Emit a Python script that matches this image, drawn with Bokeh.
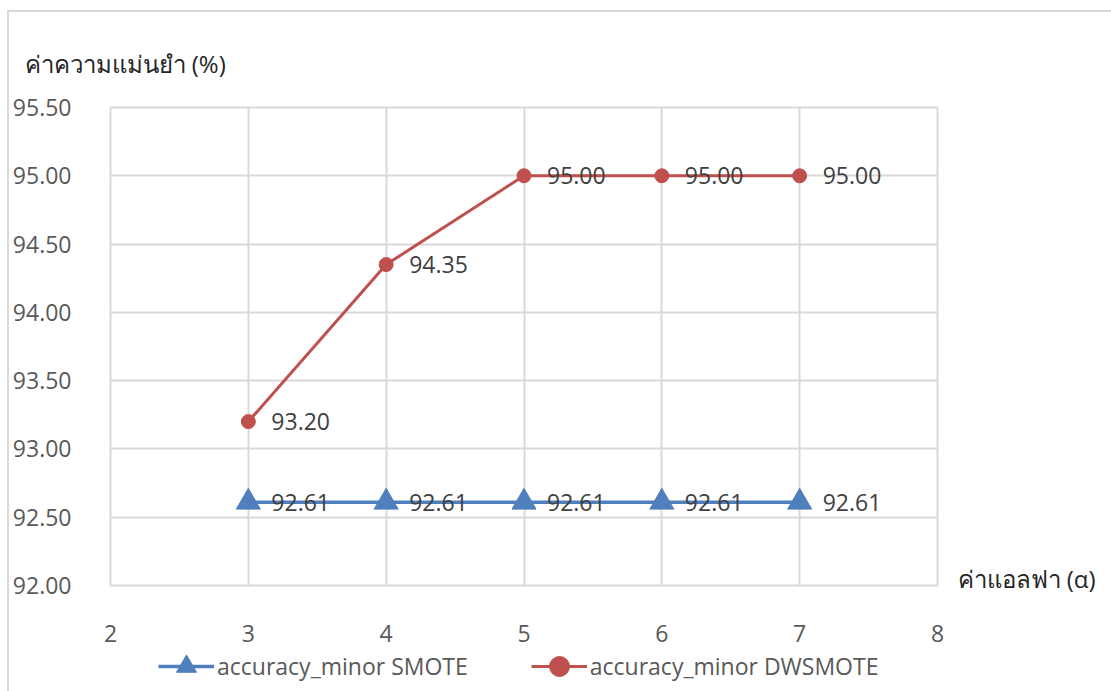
from bokeh.plotting import figure
from bokeh.layouts import column
from bokeh.models import (Range1d, FixedTicker, Legend, LegendItem, ColumnDataSource,
                          CustomJSTickFormatter, LinearAxis)
from bokeh.core.properties import value
from bokeh.embed import file_html
from bokeh.resources import INLINE

alpha = [3, 4, 5, 6, 7]
smote = [92.61, 92.61, 92.61, 92.61, 92.61]
dwsmote = [93.20, 94.35, 95.00, 95.00, 95.00]
x_ticks = [2, 3, 4, 5, 6, 7, 8]
y_ticks = [92.0, 92.5, 93.0, 93.5, 94.0, 94.5, 95.0, 95.5]
y_title = "ค่าความแม่นยำ (%)"
x_title = "ค่าแอลฟา (α)"
name_smote = "accuracy_minor SMOTE"
name_dw = "accuracy_minor DWSMOTE"

FONT = "Open Sans"
BLUE = "#4f7fbc"
RED = "#c0504d"
GRID = "#d9d9d9"
TICK = "#595959"
TXT = "#404040"
DARK = "#262626"

# page layout: a 2px border at x=7 / y=10, chart content from (9, 12)
OX, OY = 9, 12
W = 1111 - OX
FL, FT, FR, FB = 107, 107, 937, 585   # frame edges on the page
H_MAIN = 640
LEG_OVERLAP = 40
H_LEG = 691 - OY - H_MAIN + LEG_OVERLAP

p = figure(width=W, height=H_MAIN, output_backend="svg", toolbar_location=None,
           x_range=Range1d(2, 8), y_range=Range1d(92, 95.5),
           min_border_left=FL - OX, min_border_right=1111 - FR,
           min_border_top=FT - OY, min_border_bottom=H_MAIN - (FB - OY))
p.outline_line_color = GRID
p.outline_line_width = 2
p.background_fill_color = "white"
p.border_fill_color = "white"

# value-axis title sits above the frame, left of it
p.title.text = y_title
p.title.align = "left"
p.title.offset = 27 - FL - 6
p.title.standoff = 56
p.title.text_font = FONT
p.title.text_font_size = "24px"
p.title.text_font_style = "normal"
p.title.text_color = DARK

for ax in (p.xaxis[0], p.yaxis[0]):
    ax.axis_line_color = None
    ax.major_tick_line_color = None
    ax.minor_tick_line_color = None
    ax.major_label_text_font = FONT
    ax.major_label_text_color = TICK
    ax.major_label_text_font_size = "23px"
p.xaxis.ticker = FixedTicker(ticks=x_ticks)
p.yaxis.ticker = FixedTicker(ticks=y_ticks)
p.yaxis.formatter = CustomJSTickFormatter(code="return tick.toFixed(2);")
p.yaxis.major_label_standoff = 33
p.xaxis.major_label_standoff = 33
p.xgrid.grid_line_color = GRID
p.ygrid.grid_line_color = GRID
p.xgrid.grid_line_width = 2
p.ygrid.grid_line_width = 2

# category-axis title, to the right of the frame at its bottom edge
title_axis = LinearAxis(ticker=FixedTicker(ticks=[92.05]),
                        formatter=CustomJSTickFormatter(code="return %r;" % x_title),
                        axis_line_color=None, major_tick_line_color=None,
                        minor_tick_line_color=None, major_label_standoff=14,
                        major_label_text_font=FONT, major_label_text_font_size="24px",
                        major_label_text_color=DARK)
p.add_layout(title_axis, "right")

src_s = ColumnDataSource(dict(x=alpha, y=smote, t=["%.2f" % v for v in smote]))
src_d = ColumnDataSource(dict(x=alpha, y=dwsmote, t=["%.2f" % v for v in dwsmote]))

p.line("x", "y", source=src_s, line_color=BLUE, line_width=3.5)
p.scatter("x", "y", source=src_s, marker="triangle", size=24, fill_color=BLUE, line_color=BLUE)
p.line("x", "y", source=src_d, line_color=RED, line_width=3)
p.scatter("x", "y", source=src_d, marker="circle", size=14, fill_color=RED, line_color=RED)

for src in (src_s, src_d):
    p.text("x", "y", text="t", source=src, x_offset=23, text_baseline="middle",
           text_align="left", text_font=value(FONT), text_font_size="23px", text_color=TXT)

# transparent legend strip, pulled up over the blank space under the tick labels;
# its renderers share the series sources but lie out of view
leg = figure(width=W, height=H_LEG, output_backend="svg", toolbar_location=None,
             x_range=Range1d(0, 1), y_range=Range1d(0, 1),
             min_border=0, outline_line_color=None,
             border_fill_color=None, background_fill_color=None)
leg.margin = (-LEG_OVERLAP, 0, 0, 0)
leg.axis.visible = False
leg.grid.visible = False
r_ls = leg.line("x", "y", source=src_s, line_color=BLUE, line_width=3.5)
r_ms = leg.scatter("x", "y", source=src_s, marker="triangle", size=24, fill_color=BLUE, line_color=BLUE)
r_ld = leg.line("x", "y", source=src_d, line_color=RED, line_width=3)
r_md = leg.scatter("x", "y", source=src_d, marker="circle", size=14, fill_color=RED, line_color=RED)
legend = Legend(items=[LegendItem(label=name_smote, renderers=[r_ls, r_ms]),
                       LegendItem(label=name_dw, renderers=[r_ld, r_md])],
                orientation="horizontal", location=(155 - FL, 0),
                glyph_width=56, glyph_height=50, label_text_font=FONT,
                label_text_font_size="23px", label_text_color=TICK,
                background_fill_alpha=0, border_line_color=None,
                spacing=63, label_standoff=3, padding=0, margin=0)
leg.add_layout(legend)

page = column(p, leg, spacing=0, margin=(10, 0, 0, 7),
              styles={"border-top": "2px solid #d9d9d9", "border-left": "2px solid #d9d9d9"})

open("out.html", "w").write(file_html(page, INLINE))
